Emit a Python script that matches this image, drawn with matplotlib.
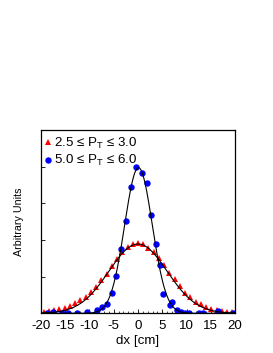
import numpy as np
import matplotlib
matplotlib.use("Agg")
import matplotlib.pyplot as plt
from matplotlib.ticker import MultipleLocator

plt.rcParams['font.family'] = ['Liberation Sans', 'DejaVu Sans']
plt.rcParams['mathtext.fontset'] = 'custom'
plt.rcParams['mathtext.rm'] = 'Liberation Sans'
plt.rcParams['axes.unicode_minus'] = False

# data
red_x = [-19.44, -18.36, -17.28, -16.2, -15.12, -14.04, -12.96, -11.88, -10.8, -9.72,
         -8.64, -7.56, -6.48, -5.4, -4.32, -3.24, -2.16, -1.08, 0.0, 1.08,
         2.16, 3.24, 4.32, 5.4, 6.48, 7.56, 8.64, 9.72, 10.8, 11.88,
         12.96, 14.04, 15.12, 16.2, 17.28, 18.36, 19.44]
red_y = [0.03, 0.05, 0.08, 0.11, 0.15, 0.2, 0.28, 0.37, 0.45, 0.58,
         0.73, 0.9, 1.08, 1.28, 1.48, 1.68, 1.82, 1.89, 1.91, 1.88,
         1.77, 1.66, 1.5, 1.32, 1.1, 0.93, 0.75, 0.55, 0.45, 0.32,
         0.24, 0.17, 0.13, 0.09, 0.06, 0.04, 0.03]

blue_x = [-18.8, -17.5, -15.7, -14.5, -12.5, -10.45, -8.5, -7.5, -6.45, -5.42,
          -4.54, -3.5, -2.47, -1.44, -0.41, 0.76, 1.79, 2.68, 3.71, 4.54,
          5.22, 6.6, 7.0, 7.96, 8.87, 9.76, 10.6, 12.6, 13.3, 16.5, 19.6]
blue_y = [0.01, 0.03, 0.01, 0.01, 0.02, 0.03, 0.09, 0.16, 0.24, 0.56,
          1.03, 1.76, 2.52, 3.43, 3.98, 3.83, 3.54, 2.67, 1.89, 1.31,
          0.53, 0.22, 0.32, 0.09, 0.04, 0.02, 0.02, 0.02, 0.02, 0.05, 0.02]

# Gaussian fit parameters (amplitude, mean, sigma)
red_fit = (1.89, 0.0, 6.0)
blue_fit = (3.97, 0.1, 2.85)

red_label = '2.5 \u2264 P$_{\\mathregular{T}}$ \u2264 3.0'
blue_label = '5.0 \u2264 P$_{\\mathregular{T}}$ \u2264 6.0'

fig = plt.figure(figsize=(2.73, 3.53), dpi=100)
ax = fig.add_axes([0.150, 0.1125, 0.711, 0.5195])

xx = np.linspace(-20, 20, 400)
for (a, m, s) in (red_fit, blue_fit):
    ax.plot(xx, a * np.exp(-(xx - m) ** 2 / (2 * s ** 2)), color='black', lw=0.8, zorder=3)

ax.plot(red_x, red_y, linestyle='none', marker='^', color='#ff0000', ms=5.0,
        markeredgewidth=0, label=red_label, zorder=2)
ax.plot(blue_x, blue_y, linestyle='none', marker='o', color='#0000ff', ms=4.6,
        markeredgewidth=0, label=blue_label, zorder=2)

ax.set_xlim(-20, 20)
ax.set_ylim(0, 5)
ax.xaxis.set_major_locator(MultipleLocator(5))
ax.xaxis.set_minor_locator(MultipleLocator(1))
ax.yaxis.set_major_locator(MultipleLocator(1))
ax.tick_params(axis='both', which='major', direction='in', length=3, width=0.6,
               labelsize=9.6, pad=4.5, top=False, right=False)
ax.tick_params(axis='x', which='minor', direction='in', length=1.8, width=0.5, top=False)
ax.tick_params(axis='y', which='major', labelleft=False)
for sp in ax.spines.values():
    sp.set_linewidth(0.9)

ax.set_xlabel('dx [cm]', fontsize=9.6, labelpad=2.5)
ax.set_ylabel('Arbitrary Units', fontsize=7.7, labelpad=12)

leg = ax.legend(loc='upper left', bbox_to_anchor=(-0.01, 0.998), frameon=False,
                fontsize=9.6, handlelength=0.5, handletextpad=0.25, labelspacing=0.2,
                borderaxespad=0.2, borderpad=0.2)

fig.savefig('out.png', dpi=100)
